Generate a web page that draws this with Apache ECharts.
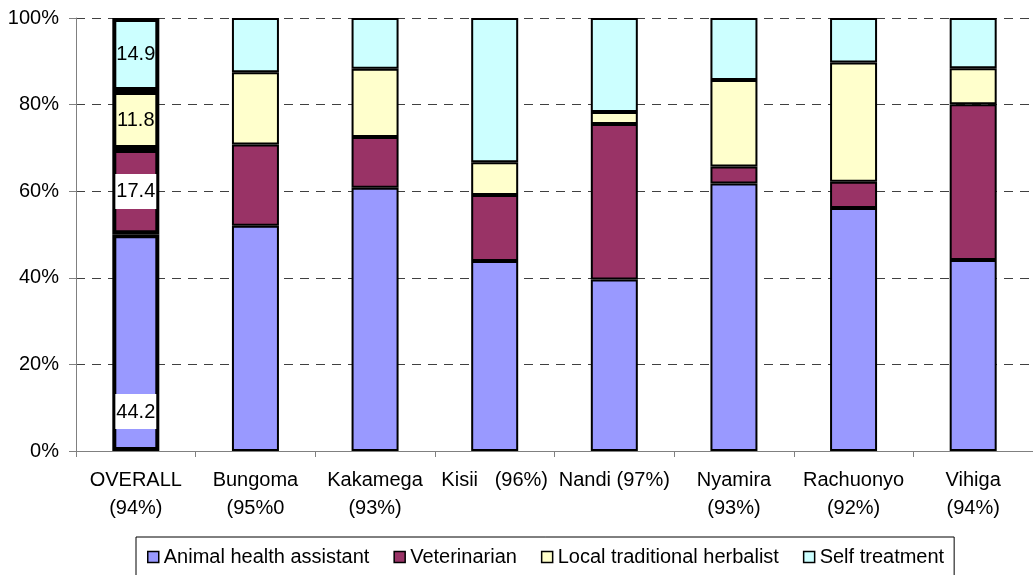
<!DOCTYPE html>
<html>
<head>
<meta charset="utf-8">
<script src="https://cdn.jsdelivr.net/npm/echarts@6/dist/echarts.min.js"></script>
<style>
  html, body { margin: 0; padding: 0; background: #fff; }
  #chart { width: 1033px; height: 575px; }
</style>
</head>
<body>
<div id="chart"></div>
<script>
// Sources of animal health services by district (share of respondents)
const categories = [
  'OVERALL\n(94%)', 'Bungoma\n(95%0', 'Kakamega\n(93%)', 'Kisii   (96%)',
  'Nandi (97%)', 'Nyamira\n(93%)', 'Rachuonyo\n(92%)', 'Vihiga\n(94%)'
];
const seriesNames = ['Animal health assistant', 'Veterinarian', 'Local traditional herbalist', 'Self treatment'];
const animalHealthAssistant = [44.2, 52.0, 60.8, 43.9, 39.6, 61.8, 56.1, 44.1];
const veterinarian          = [17.4, 18.8, 11.7, 15.2, 35.9, 3.9, 6.1, 36.0];
const traditionalHerbalist  = [11.8, 16.7, 15.8, 7.6, 2.8, 20.0, 27.5, 8.3];
const selfTreatment         = [14.9, 12.5, 11.7, 33.3, 21.7, 14.3, 10.3, 11.6];
const yTicks = [0, 20, 40, 60, 80, 100];

const raw = [animalHealthAssistant, veterinarian, traditionalHerbalist, selfTreatment];
const colors = ['#9999FF', '#993366', '#FFFFCC', '#CCFFFF'];
const FONT = "'Liberation Sans', Arial, sans-serif";

// 100% stacking: each column is scaled by its own total
const totals = categories.map((_, i) => raw.reduce((s, arr) => s + arr[i], 0));

// labels on the OVERALL column only
const overallLabel = [
  { show: true, position: 'insideBottom', distance: 22, backgroundColor: '#fff', padding: [8, 1, 7, 1] },
  { show: true, position: 'inside', backgroundColor: '#fff', padding: [8, 1, 7, 1] },
  { show: true, position: 'inside' },
  { show: true, position: 'inside' }
];

const series = raw.map((arr, s) => ({
  name: seriesNames[s],
  type: 'bar',
  stack: 'total',
  barWidth: 47,
  itemStyle: { color: colors[s], borderColor: '#000', borderWidth: 2 },
  data: arr.map((v, i) => {
    const item = { value: v / totals[i] * 100 };
    if (i === 0) {
      item.itemStyle = { borderWidth: 4 };
      item.label = Object.assign({
        fontSize: 20, lineHeight: 20, fontFamily: FONT, color: '#000',
        formatter: () => v.toFixed(1)
      }, overallLabel[s]);
    }
    return item;
  })
}));

const chart = echarts.init(document.getElementById('chart'), null, { renderer: 'canvas' });
chart.setOption({
  animation: false,
  color: colors,
  textStyle: { fontFamily: FONT },
  grid: { left: 76, top: 18, width: 962, height: 433, containLabel: false },
  legend: {
    data: seriesNames,
    left: 136, top: 537,
    padding: [10, 10, 20, 11],
    itemGap: 24,
    itemWidth: 11, itemHeight: 11,
    icon: 'rect',
    borderColor: '#000', borderWidth: 1,
    itemStyle: { borderColor: '#000', borderWidth: 1.5 },
    textStyle: { fontSize: 20, fontFamily: FONT, color: '#000' }
  },
  xAxis: {
    type: 'category',
    data: categories,
    axisLine: { show: true, lineStyle: { color: '#808080', width: 1 } },
    axisTick: { show: true, length: 6, lineStyle: { color: '#808080' } },
    axisLabel: {
      interval: 0, fontSize: 20, lineHeight: 28, margin: 15,
      color: '#000', fontFamily: FONT
    }
  },
  yAxis: {
    type: 'value',
    min: yTicks[0], max: yTicks[yTicks.length - 1], interval: yTicks[1] - yTicks[0],
    axisLine: { show: true, lineStyle: { color: '#808080', width: 1 } },
    axisTick: { show: true, length: 7, lineStyle: { color: '#808080' } },
    axisLabel: { formatter: '{value}%', fontSize: 20, margin: 17, color: '#000', fontFamily: FONT },
    splitLine: { show: true, lineStyle: { color: '#404040', type: [9, 7], width: 1 } }
  },
  series: series
});
</script>
</body>
</html>
